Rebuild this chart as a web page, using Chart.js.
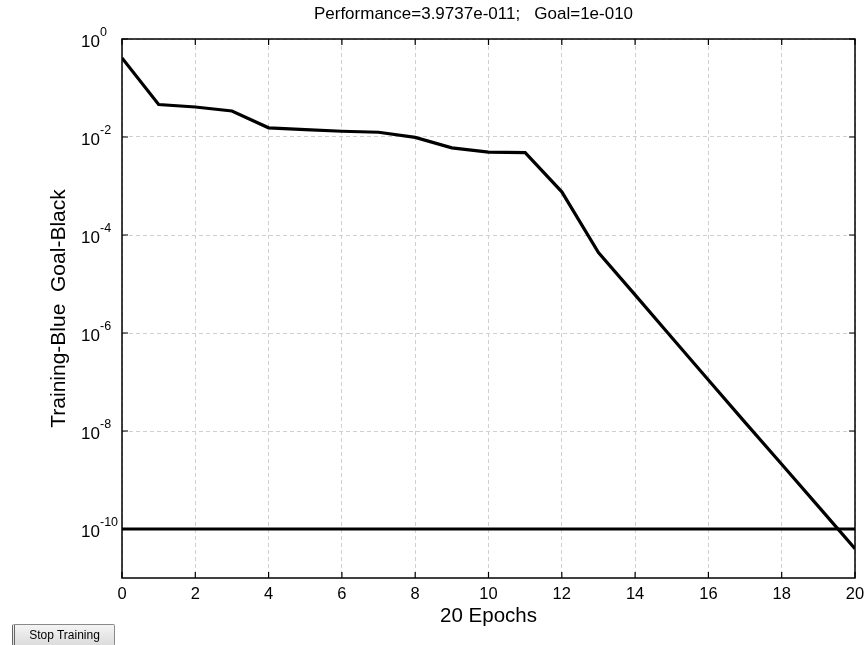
<!DOCTYPE html>
<html>
<head>
<meta charset="utf-8">
<script src="https://cdn.jsdelivr.net/npm/chart.js@4.4.0/dist/chart.umd.min.js"></script>
<style>
  html, body { margin: 0; padding: 0; background: #fff; overflow: hidden; }
  #wrap { position: relative; width: 867px; height: 645px; }
  #stopBtn {
    position: absolute; left: 12px; top: 624px; width: 103px; height: 22px;
    font: 12px 'Liberation Sans', Arial, sans-serif; color: #000;
    background: linear-gradient(#f4f4f4, #dcdcdc);
    border: 1px solid #8a8a8a; border-left: 3px double #666; border-radius: 2px; padding: 0;
  }
</style>
</head>
<body>
<div id="wrap">
  <canvas id="grafico" width="867" height="645"></canvas>
  <button id="stopBtn">Stop Training</button>
</div>
<script>
// dados
const epochs = [0, 1, 2, 3, 4, 5, 6, 7, 8, 9, 10, 11, 12, 13, 14, 15, 16, 17, 18, 19, 20];
const performance = [0.41, 0.046, 0.041, 0.034, 0.0154, 0.0142, 0.0131, 0.0125, 0.0098, 0.006, 0.0049, 0.0048,
                     7.6e-4, 4.4e-5, 6.0e-6, 8.1e-7, 1.1e-7, 1.5e-8, 2.1e-9, 2.9e-10, 3.97e-11];
const goal = [1e-10, 1e-10];
const goalEpochs = [0, 20];
const xTicks = [0, 2, 4, 6, 8, 10, 12, 14, 16, 18, 20];
const yTicks = [1, 1e-2, 1e-4, 1e-6, 1e-8, 1e-10];
const titleText = 'Performance=3.9737e-011;   Goal=1e-010';

const FONT = "'Liberation Sans', Arial, sans-serif";

// moldura, marcas internas, rótulos 10^n e título
const extras = {
    id: 'extras',
    afterDraw(chart) {
        const ctx = chart.ctx;
        const a = chart.chartArea;
        const xs = chart.scales.x, ys = chart.scales.y;
        ctx.save();
        ctx.strokeStyle = '#000';
        ctx.lineWidth = 1.5;
        ctx.strokeRect(a.left, a.top, a.right - a.left, a.bottom - a.top);
        ctx.lineWidth = 1.2;
        ctx.beginPath();
        xTicks.forEach(t => {
            const x = xs.getPixelForValue(t);
            ctx.moveTo(x, a.bottom); ctx.lineTo(x, a.bottom - 6);
            ctx.moveTo(x, a.top); ctx.lineTo(x, a.top + 6);
        });
        yTicks.forEach(t => {
            const y = ys.getPixelForValue(t);
            ctx.moveTo(a.left, y); ctx.lineTo(a.left + 6, y);
            ctx.moveTo(a.right, y); ctx.lineTo(a.right - 6, y);
        });
        ctx.stroke();

        ctx.fillStyle = '#000';
        ctx.textAlign = 'left';
        ctx.textBaseline = 'middle';
        yTicks.forEach(t => {
            const y = ys.getPixelForValue(t);
            const e = Math.round(Math.log10(t));
            ctx.font = '17px ' + FONT;
            ctx.fillText('10', 81, y + 3);
            ctx.font = '12.5px ' + FONT;
            ctx.fillText(String(e), 100, y - 6);
        });

        ctx.textAlign = 'center';
        ctx.font = '17px ' + FONT;
        ctx.fillText(titleText, 473.5, 14);
        ctx.restore();
    }
};

const ctx = document.getElementById('grafico').getContext('2d');
const myChart = new Chart(ctx, {
    type: 'line',
    data: {
        datasets: [{
            label: 'Training',
            data: epochs.map((e, i) => ({ x: e, y: performance[i] })),
            borderColor: '#000',
            borderWidth: 3.2,
            pointRadius: 0,
            tension: 0
        }, {
            label: 'Goal',
            data: goalEpochs.map((e, i) => ({ x: e, y: goal[i] })),
            borderColor: '#000',
            borderWidth: 3.2,
            pointRadius: 0
        }]
    },
    options: {
        responsive: false,
        animation: false,
        layout: { padding: { top: 39, right: 12, bottom: 0, left: 0 } },
        plugins: {
            legend: { display: false },
            tooltip: { enabled: false }
        },
        scales: {
            x: {
                type: 'linear',
                min: 0,
                max: 20,
                afterBuildTicks: s => { s.ticks = xTicks.map(v => ({ value: v })); },
                afterFit: s => { s.height = 67; s.paddingLeft = 0; s.paddingRight = 0; },
                ticks: { color: '#000', font: { family: FONT, size: 16.5 }, padding: 7, maxRotation: 0 },
                grid: { color: '#d0d0d0', lineWidth: 1, drawTicks: false },
                border: { display: false, dash: [4, 3] },
                title: { display: true, text: '20 Epochs', color: '#000',
                         font: { family: FONT, size: 20.5 }, padding: { top: 16, bottom: 16 } }
            },
            y: {
                type: 'logarithmic',
                min: 1e-11,
                max: 1,
                afterBuildTicks: s => { s.ticks = yTicks.map(v => ({ value: v })); },
                afterFit: s => { s.width = 122; s.paddingTop = 0; s.paddingBottom = 0; },
                ticks: { display: false },
                grid: { color: '#d0d0d0', lineWidth: 1, drawTicks: false },
                border: { display: false, dash: [4, 3] },
                title: { display: true, text: 'Training-Blue  Goal-Black', color: '#000',
                         font: { family: FONT, size: 21 }, padding: { top: 47, bottom: 47 } }
            }
        }
    },
    plugins: [extras]
});
</script>
</body>
</html>
